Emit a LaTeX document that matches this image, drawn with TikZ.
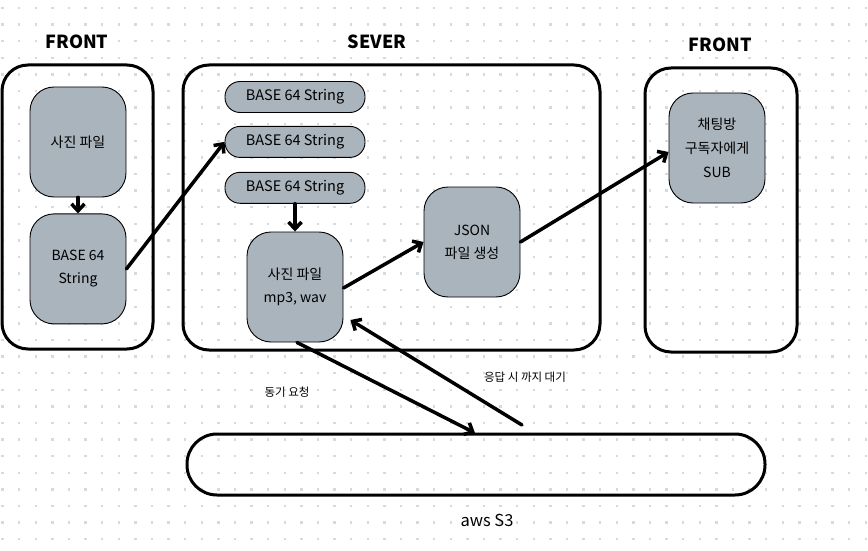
\documentclass[tikz,border=0pt]{standalone}
\usepackage{fontspec}
\setmainfont{Noto Sans CJK KR}
\usepackage{xcolor}
\definecolor{BoxGray}{RGB}{170, 180, 188}
\definecolor{DotGray}{RGB}{212, 218, 224}
\usepackage{tikz}
\usetikzlibrary{arrows.meta, positioning}

\begin{document}
\begin{tikzpicture}[
        x=1pt, y=-1pt,
        frame/.style={draw=black, line width=3pt, rounded corners=26pt},
        box/.style={rectangle, draw=black, line width=0.9pt, fill=BoxGray, rounded corners=24pt, minimum width=96pt, minimum height=110pt, align=center, font=\fontsize{14}{23}\selectfont, inner sep=0pt},
        pill/.style={rectangle, draw=black, line width=0.9pt, fill=BoxGray, rounded corners=15pt, minimum width=140pt, minimum height=31pt, font=\fontsize{14.5}{16}\selectfont, inner sep=0pt},
        arrow/.style={-{Straight Barb[length=7pt, width=13pt]}, line width=3.5pt, line cap=round, black},
        title/.style={font=\fontsize{18}{20}\selectfont\bfseries},
        note/.style={font=\fontsize{11.5}{13}\selectfont}
    ]
        % Background
        \useasboundingbox (0,0) rectangle (868,551);
        \fill[white] (0,0) rectangle (868,551);
        \foreach \i in {0,...,52} {
            \foreach \j in {0,...,33} {
                \fill[DotGray] ({2.6+\i*16.6-1.2},{8+\j*16.6-1.2}) rectangle ++(2.4,2.4);
            }
        }

        % Containers
        \draw[frame] (2,65) rectangle (153,349);
        \draw[frame] (183,65) rectangle (600,350);
        \draw[frame] (645,68) rectangle (797,352);
        \draw[frame, rounded corners=30pt] (187,434) rectangle (765,495);

        % Titles
        \node[title] (front1) at (77,42) {FRONT};
        \node[title] (sever) at (377,42) {SEVER};
        \node[title] (front2) at (720,45) {FRONT};
        \node[font=\fontsize{16.5}{18}\selectfont] (s3) at (487,520) {aws S3};

        % Nodes
        \node[box] (photo) at (78,142) {사진 파일};
        \node[box, below=16pt of photo] (base) {BASE 64\\String};
        \node[pill] (str1) at (295,97) {BASE 64 String};
        \node[pill, below=13pt of str1] (str2) {BASE 64 String};
        \node[pill, below=14pt of str2] (str3) {BASE 64 String};
        \node[box] (file) at (295,287) {사진 파일\\mp3, wav};
        \node[box] (json) at (472,242) {JSON\\파일 생성};
        \node[box, font=\fontsize{14}{24}\selectfont] (sub) at (717,148) {채팅방\\구독자에게\\SUB};

        % Arrows
        \coordinate (s3in) at (475,433);
        \coordinate (s3out) at (522,425);
        \draw[arrow] (photo) -- (base);
        \draw[arrow] (base.east) -- (str2.west);
        \draw[arrow] (str3) -- (file);
        \draw[arrow] (file.east) ++(0,1) -- (json.west);
        \draw[arrow] (json.east) -- ([yshift=-4pt]sub.west);
        \draw[arrow] ([xshift=2pt]file.south) -- (s3in);
        \draw[arrow] (s3out) -- ([xshift=7pt,yshift=-33pt]file.east);

        % Annotations
        \node[note] (sync) at (287,392) {동기 요청};
        \node[note] (wait) at (525,377) {응답 시 까지 대기};
    \end{tikzpicture}
\end{document}
